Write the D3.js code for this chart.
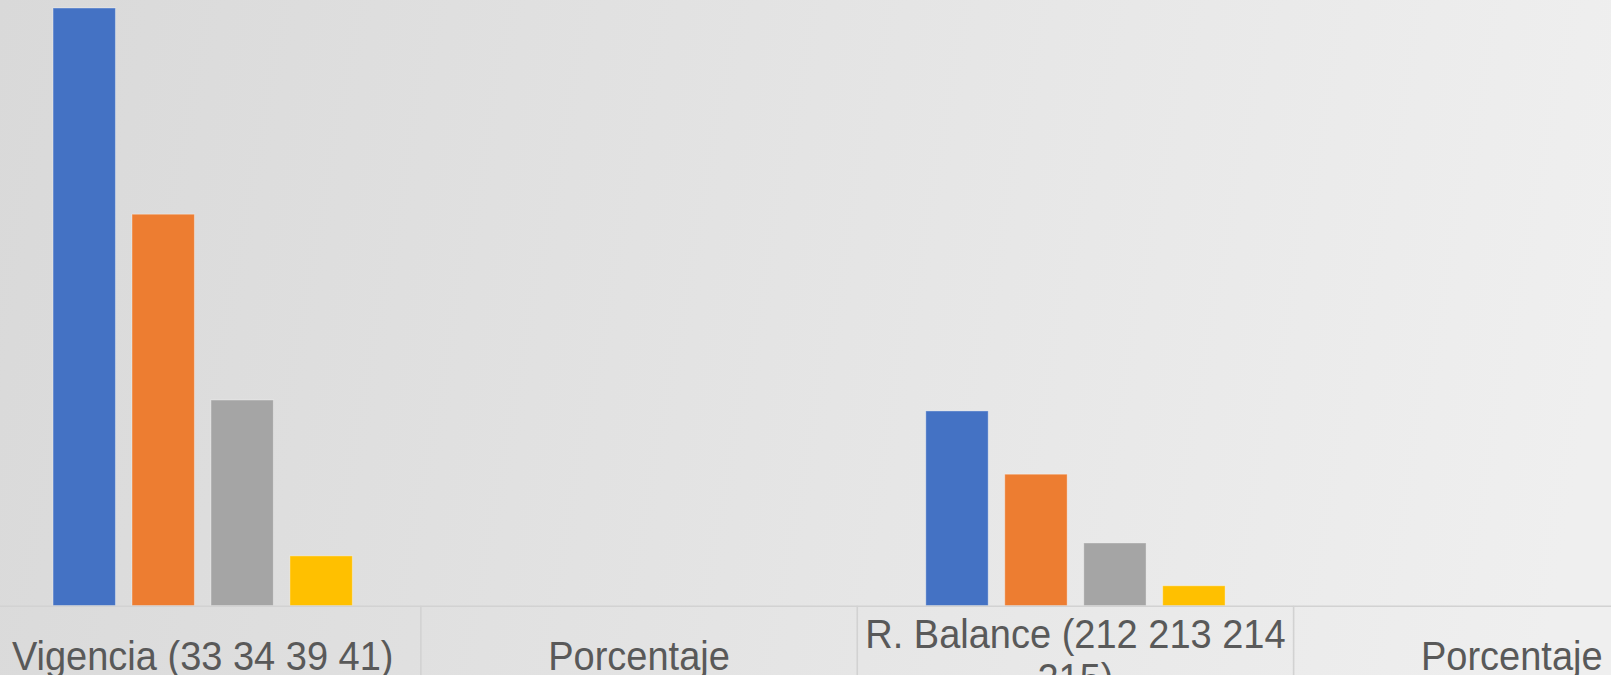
<!DOCTYPE html>
<html><head><meta charset="utf-8">
<script src="https://cdn.jsdelivr.net/npm/d3@7"></script>
<style>html,body{margin:0;padding:0;overflow:hidden;background:#e4e4e4;} svg{display:block;}</style>
</head><body>
<svg id="chart" width="1611" height="675"></svg>
<script>
// ---- data ----
const categories = ["Vigencia (33 34 39 41)", "Porcentaje", "R. Balance (212 213 214 215)", "Porcentaje"];
const seriesNames = ["Serie 1", "Serie 2", "Serie 3", "Serie 4"];
const serie1 = [1200, 0, 391, 0];
const serie2 = [786, 0, 264, 0];
const serie3 = [413, 0, 126, 0];
const serie4 = [100, 0, 40, 0];
const seriesColors = ["#4472C4", "#ED7D31", "#A5A5A5", "#FFC000"];
const yMax = 1200;

// ---- layout ----
const W = 1611, H = 675;
const baseY = 605.7, topY = 8;
const svg = d3.select("#chart");

const defs = svg.append("defs");
const grad = defs.append("linearGradient").attr("id", "bg")
  .attr("gradientUnits", "userSpaceOnUse")
  .attr("x1", 0).attr("y1", 0).attr("x2", W).attr("y2", 300);
grad.append("stop").attr("offset", "0%").attr("stop-color", "#d9d9d9");
grad.append("stop").attr("offset", "100%").attr("stop-color", "#efefef");
svg.append("rect").attr("width", W).attr("height", H).attr("fill", "url(#bg)");

const idx = categories.map((d, i) => i);
const x0 = d3.scaleBand().domain(idx).range([-15.5, 1730]).paddingInner(0).paddingOuter(0);
const x1 = d3.scaleBand().domain(seriesNames).range([0, x0.bandwidth()]).paddingInner(0.21).paddingOuter(0.868);
const y = d3.scaleLinear().domain([0, yMax]).range([baseY, topY]);

const allSeries = [serie1, serie2, serie3, serie4];
const rows = [];
idx.forEach(i => seriesNames.forEach((s, j) => rows.push({cat: i, s, j, v: allSeries[j][i]})));

svg.append("g").selectAll("rect").data(rows.filter(d => d.v > 0)).join("rect")
  .attr("x", d => x0(d.cat) + x1(d.s))
  .attr("width", x1.bandwidth())
  .attr("y", d => y(d.v))
  .attr("height", d => baseY - y(d.v))
  .attr("fill", d => seriesColors[d.j])
  .attr("stroke", "rgba(255,255,255,0.35)")
  .attr("stroke-width", 1);

// axis
const axis = d3.axisBottom(x0).tickSize(0).tickSizeOuter(0).tickFormat(i => categories[i]);
const gAxis = svg.append("g").attr("transform", `translate(0,${baseY})`).call(axis);
gAxis.select(".domain").attr("stroke", "#d2d2d2").attr("stroke-width", 1.6);

// separators
const bounds = idx.map(i => x0(i)).concat([x0.range()[1]]);
svg.append("g").selectAll("line").data(bounds).join("line")
  .attr("x1", d => d).attr("x2", d => d)
  .attr("y1", baseY).attr("y2", H)
  .attr("stroke", "#d2d2d2").attr("stroke-width", 1.6);

// labels with wrapping (text slightly stretched vertically, as in the reference)
const lineH = 44, sy = 1.07, singleBase = 670;
gAxis.selectAll(".tick text")
  .attr("font-family", "'Liberation Sans', Arial, sans-serif")
  .attr("font-size", 38)
  .attr("fill", "#595959")
  .attr("dy", null)
  .attr("transform", `scale(1,${sy})`)
  .each(function(i) {
    const t = d3.select(this);
    const words = categories[i].split(" ");
    t.text(null);
    const maxW = x0.bandwidth() - 8;
    let lines = [], cur = [];
    const probe = t.append("tspan");
    words.forEach(w => {
      const test = cur.concat([w]).join(" ");
      probe.text(test);
      if (probe.node().getComputedTextLength() > maxW && cur.length) {
        lines.push(cur.join(" "));
        cur = [w];
      } else cur.push(w);
    });
    lines.push(cur.join(" "));
    probe.remove();
    const base = singleBase - baseY - (lines.length - 1) * lineH / 2;
    t.attr("y", 0);
    lines.forEach((ln, k) => {
      t.append("tspan").attr("x", 0).attr("y", (base + k * lineH) / sy).text(ln);
    });
  });
</script>
</body></html>
